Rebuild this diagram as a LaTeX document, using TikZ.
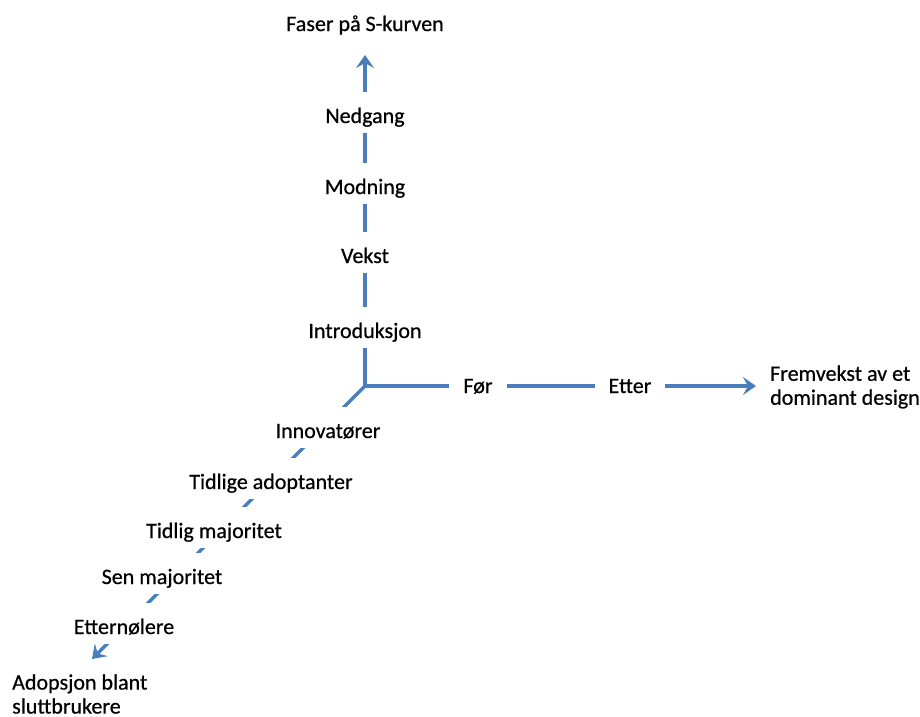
\documentclass[tikz,border=0pt]{standalone}
\usepackage{fontspec}
\setmainfont{Carlito}[FakeBold=0.6]
\usetikzlibrary{arrows.meta}
\definecolor{axisblue}{RGB}{74,126,187}
\begin{document}
\begin{tikzpicture}[x=1pt,y=-1pt,
  axis/.style={draw=axisblue, line width=3.5pt,
    -{Stealth[length=13pt,width=18pt,inset=5pt]}},
  lbl/.style={fill=white, inner xsep=8pt, inner ysep=0pt,
    text height=31pt, text depth=10pt, anchor=base,
    font=\fontsize{22}{24}\selectfont},
  plain/.style={inner sep=0pt, font=\fontsize{22}{24}\selectfont}]
\useasboundingbox (0,0) rectangle (920,716);

% origin and the three axis ends
\coordinate (o) at (365,386);
\coordinate (ytip) at (365,55);
\coordinate (xtip) at (756,386);
\coordinate (ztip) at (92,659);

% axes
\draw[axis] ([yshift=-1.75pt]o) -- (ytip);
\draw[axis] (o) -- (xtip);
\draw[axis] (o) -- (ztip);

% phases of the S-curve (vertical axis)
\node[plain] (title) at (365,25) {Faser på S-kurven};
\node[lbl] (nedgang) at (365,123) {Nedgang};
\node[lbl] (modning) at (365,194) {Modning};
\node[lbl] (vekst)   at (365,263) {Vekst};
\node[lbl] (intro)   at (365,338) {Introduksjon};

% dominant design (horizontal axis)
\node[lbl, inner xsep=14pt] (foer)  at (478,393) {Før};
\node[lbl, inner xsep=14pt] (etter) at (630,393) {Etter};
\node[plain, anchor=west, align=left] (dominant) at (770,387)
  {Fremvekst av et\\dominant design};

% adopter categories (diagonal axis)
\node[lbl] (innov)    at (328,438) {Innovatører};
\node[lbl] (tidlige)  at (271,489) {Tidlige adoptanter};
\node[lbl] (tidlig)   at (214,538) {Tidlig majoritet};
\node[lbl] (sen)      at (162,584) {Sen majoritet};
\node[lbl] (etternol) at (124,634) {Etternølere};
\node[plain, anchor=west, align=left] (adopsjon) at (12,694)
  {Adopsjon blant\\sluttbrukere};
\end{tikzpicture}
\end{document}
